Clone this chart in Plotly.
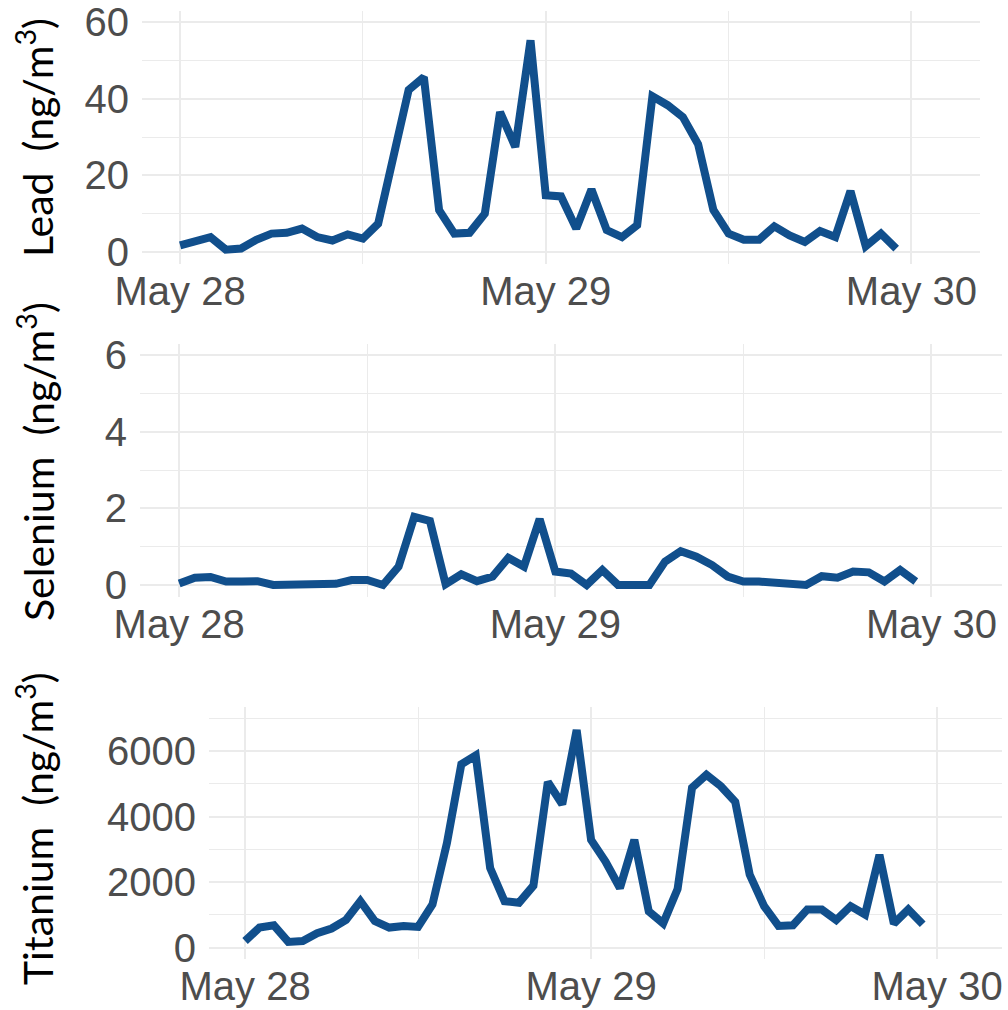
import pandas as pd
import plotly.graph_objects as go

# ---- data (hourly, starting May 28 00:00) ----
start_time = "2019-05-28 00:00"
lead = [1.7, 2.9, 3.9, 0.6, 0.9, 3.2, 4.8, 5.0, 6.1, 3.9, 3.0, 4.6, 3.5, 7.4, 24.0, 42.3,
        45.6, 10.9, 4.8, 5.0, 10.0, 36.5, 27.4, 55.2, 14.8, 14.5, 6.1, 16.3, 5.7, 3.9, 7.0, 40.6,
        38.3, 35.2, 28.1, 11.0, 4.8, 3.2, 3.2, 6.7, 4.3, 2.6, 5.5, 3.9, 15.9, 1.5, 4.8, 0.9]
selenium = [0.04, 0.19, 0.21, 0.09, 0.09, 0.10, 0.0, 0.0, 0.05, 0.0, 0.03, 0.13, 0.13, 0.0, 0.48, 1.78,
            1.67, 0.02, 0.28, 0.10, 0.22, 0.71, 0.48, 1.72, 0.35, 0.30, 0.0, 0.39, 0.0, 0.0, 0.0, 0.61,
            0.88, 0.74, 0.52, 0.22, 0.09, 0.09, 0.06, 0.0, 0.0, 0.23, 0.19, 0.35, 0.33, 0.09, 0.39, 0.09]
titanium = [200, 610, 680, 170, 200, 435, 580, 840, 1415, 810, 610, 660, 630, 1315, 3190, 5600,
            5870, 2430, 1415, 1370, 1890, 5060, 4380, 6650, 3290, 2630, 1820, 3290, 1110, 740, 1790, 4880,
            5280, 4930, 4450, 2230, 1265, 660, 680, 1165, 1165, 840, 1265, 1010, 2830, 730, 1165, 710]

x_tickvals = ["2019-05-28", "2019-05-29", "2019-05-30"]
x_ticktext = ["May 28", "May 29", "May 30"]
x_range = ["2019-05-27 21:30", "2019-05-30 04:30"]

panels = [
    dict(name="Lead", values=lead, yticks=[0, 20, 40, 60], yminor=10, yrange=[-3, 63]),
    dict(name="Selenium", values=selenium, yticks=[0, 2, 4, 6], yminor=1, yrange=[-0.3, 6.3]),
    dict(name="Titanium", values=titanium, yticks=[0, 2000, 4000, 6000], yminor=1000, yrange=[-350, 7350]),
]

times = pd.date_range(start_time, periods=len(lead), freq="h")

W, H = 1008, 1010
# pixel boxes (left, right, top, bottom) of each panel
boxes = [(142, 980, 10.5, 263.5), (140, 1002, 343.5, 596.5), (209, 1002, 707, 959)]
title_centers = [(35, 138), (36, 462), (35, 829)]

LINE = "#114F8C"
GRID = "#EBEBEB"
TICKCOL = "#4D4D4D"

fig = go.Figure()
layout = dict(width=W, height=H, margin=dict(l=0, r=0, t=0, b=0, autoexpand=False),
              template="none",
              paper_bgcolor="white", plot_bgcolor="white", showlegend=False,
              annotations=[])

for i, p in enumerate(panels, start=1):
    xa = "x" if i == 1 else f"x{i}"
    ya = "y" if i == 1 else f"y{i}"
    fig.add_trace(go.Scatter(x=times, y=p["values"], mode="lines",
                             line=dict(color=LINE, width=8), xaxis=xa, yaxis=ya,
                             hoverinfo="skip"))
    l, r, t, b = boxes[i - 1]
    xkey = "xaxis" if i == 1 else f"xaxis{i}"
    ykey = "yaxis" if i == 1 else f"yaxis{i}"
    layout[xkey] = dict(
        domain=[l / W, r / W], anchor=ya, type="date", range=x_range, automargin=False,
        tickmode="array", tickvals=x_tickvals, ticktext=x_ticktext,
        showgrid=True, gridcolor=GRID, gridwidth=2.4, zeroline=False, showline=False,
        ticks="", tickfont=dict(family="Liberation Sans, Arial", size=40, color=TICKCOL),
        ticklabelstandoff=0,
        minor=dict(showgrid=True, gridcolor=GRID, gridwidth=1.3, dtick=43200000,
                   tick0="2019-05-28 12:00"),
    )
    layout[ykey] = dict(
        domain=[1 - b / H, 1 - t / H], anchor=xa, range=p["yrange"], automargin=False,
        tickmode="array", tickvals=p["yticks"],
        showgrid=True, gridcolor=GRID, gridwidth=2.4, zeroline=False, showline=False,
        ticks="", tickfont=dict(family="Liberation Sans, Arial", size=40, color=TICKCOL),
        ticklabelstandoff=12,
        minor=dict(showgrid=True, gridcolor=GRID, gridwidth=1.3, dtick=p["yminor"], tick0=0),
    )
    cx, cy = title_centers[i - 1]
    layout["annotations"].append(dict(
        text=f"{p['name']}&nbsp; (ng/m<sup>3</sup>)", textangle=-90,
        xref="paper", yref="paper", x=cx / W, y=1 - cy / H,
        xanchor="center", yanchor="middle", showarrow=False,
        font=dict(family="Lato, Open Sans", size=41, color="black"),
    ))

fig.update_layout(**layout)
fig.write_html("out.html")
